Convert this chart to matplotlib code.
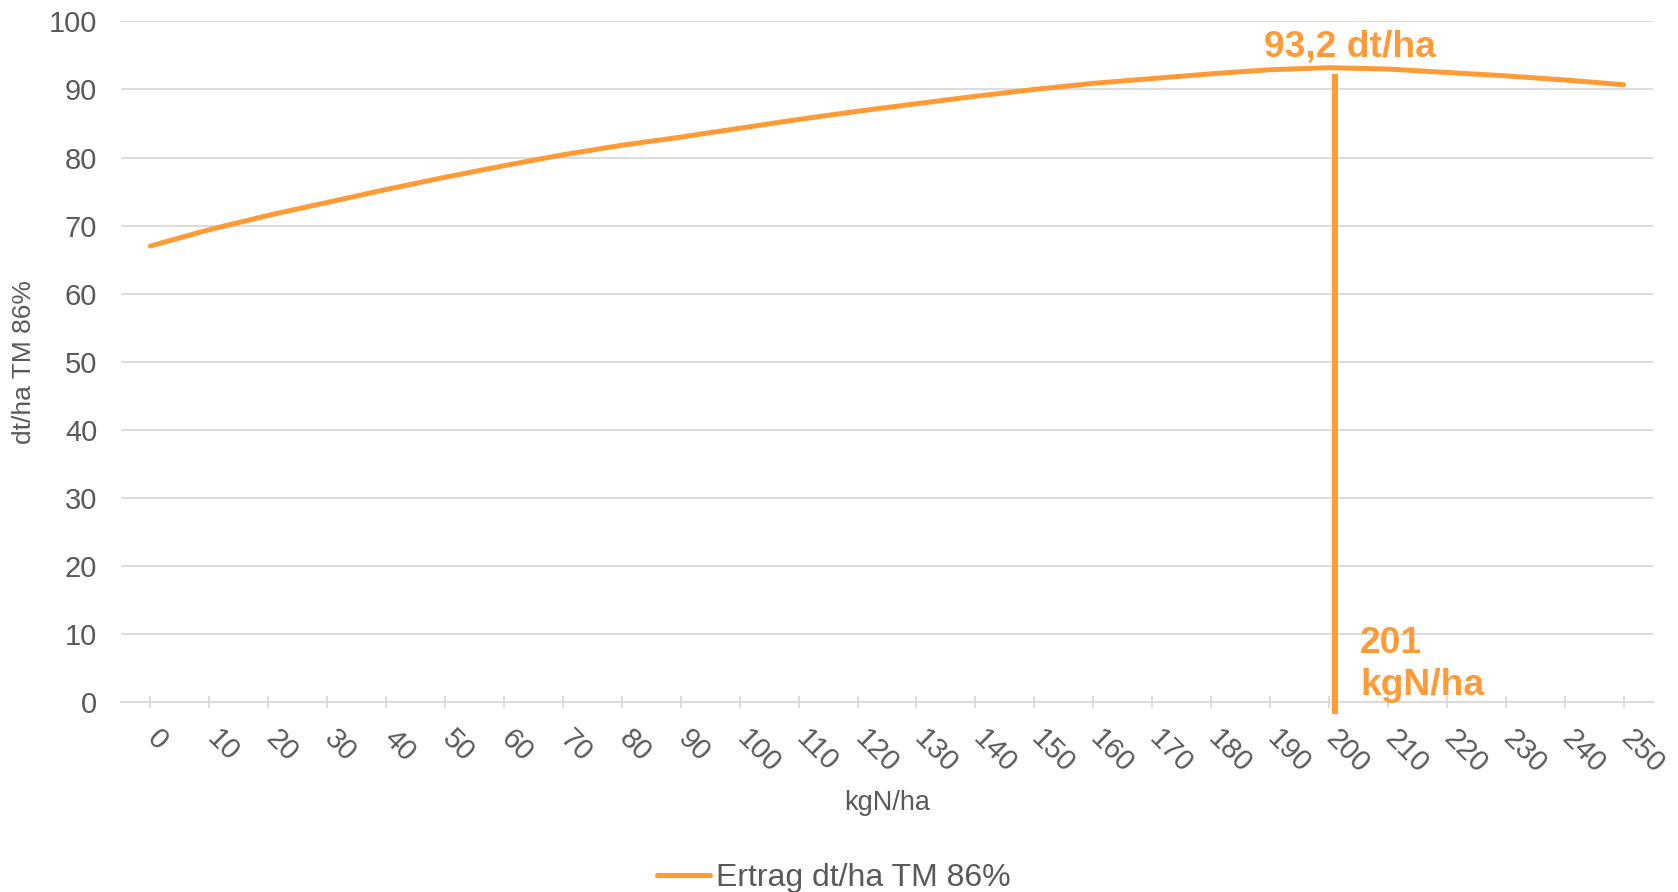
import numpy as np
import matplotlib
matplotlib.use("Agg")
import matplotlib.pyplot as plt
from matplotlib.transforms import ScaledTranslation

# N rate (kg N/ha) and yield (dt/ha, 86 % DM)
n_rates = [0, 10, 20, 30, 40, 50, 60, 70, 80, 90, 100, 110, 120, 130, 140,
           150, 160, 170, 180, 190, 200, 210, 220, 230, 240, 250]
yield_dt = [67.0, 69.4, 71.5, 73.4, 75.3, 77.1, 78.8, 80.4, 81.8, 83.0, 84.3,
            85.6, 86.8, 87.9, 89.0, 90.0, 90.9, 91.6, 92.3, 92.9, 93.2, 93.0,
            92.5, 92.0, 91.4, 90.7]

# economic optimum
opt_n = 201
opt_yield = 93.2

orange = "#FF9B37"
grey_text = "#595959"
grid_col = "#D9D9D9"

plt.rcParams["font.family"] = ["Liberation Sans", "DejaVu Sans"]

fig = plt.figure(figsize=(16.78, 8.92), dpi=100)
ax = fig.add_axes([0.0721, 0.2130, 0.9130, 0.7630])

ax.plot(n_rates, yield_dt, color=orange, lw=3.6, solid_capstyle="round",
        label="Ertrag dt/ha TM 86%", zorder=3)

# drop line at the optimum
ax.vlines(opt_n, -1.7, opt_yield - 1.0, color=orange, lw=4.3, clip_on=False, zorder=4)

ax.text(opt_n + 2.6, opt_yield + 1.7, f"{opt_yield:.1f} dt/ha".replace(".", ","),
        color=orange, fontsize=26.8, fontweight="bold", ha="center", va="baseline")
ax.text(opt_n + 4.3, 1.0, f"{opt_n}\nkgN/ha", color=orange, fontsize=26.8,
        fontweight="bold", ha="left", va="baseline", linespacing=1.27)

ax.set_xlim(-5, 255)
ax.set_ylim(0, 100)
ax.set_yticks(np.arange(0, 101, 10))
ax.set_xticks(n_rates)
ax.set_xticklabels([str(v) for v in n_rates], rotation=-45, ha="left")

ax.grid(axis="y", color=grid_col, lw=1.3)
ax.set_axisbelow(True)
for side in ["top", "right", "left"]:
    ax.spines[side].set_visible(False)
ax.spines["bottom"].set_color(grid_col)
ax.spines["bottom"].set_linewidth(1.3)

ax.tick_params(axis="y", length=0, pad=17, labelsize=21, labelcolor=grey_text)
ax.tick_params(axis="x", direction="inout", length=9, width=1.3, color=grid_col,
               pad=12, labelsize=21, labelcolor=grey_text)
shift = ScaledTranslation(-6 / 72, 0, fig.dpi_scale_trans)
for lab in ax.get_xticklabels():
    lab.set_transform(lab.get_transform() + shift)

ax.set_xlabel("kgN/ha", fontsize=19.5, color=grey_text)
ax.xaxis.set_label_coords(0.5, -0.13)
ax.set_ylabel("dt/ha TM 86%", fontsize=19, color=grey_text, va="center")
ax.yaxis.set_label_coords(-0.0633, 0.5)

fig.legend(loc="center", bbox_to_anchor=(0.497, 0.016), frameon=False,
           fontsize=23, handlelength=1.65, handletextpad=0.18,
           labelcolor=grey_text)

fig.savefig("out.png", dpi=100)
